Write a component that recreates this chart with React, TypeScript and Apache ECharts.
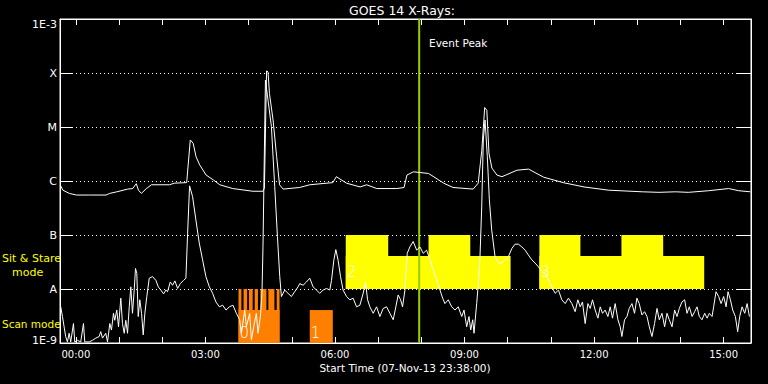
import React, { useEffect, useRef } from "react";
import * as echarts from "echarts";

// Time in minutes from 00:00 (08-Nov-13); plot starts 23:38 the day before.
const X_MIN = -22;
const X_MAX = 938;
const hourTicks = [0, 60, 120, 180, 240, 300, 360, 420, 480, 540, 600, 660, 720, 780, 840, 900];
const hourLabels = [0, 180, 360, 540, 720, 900];

// y values are log10(flux, W/m^2)
const yClassLabels: Record<string, string> = {
  "-9": "1E-9",
  "-8": "A",
  "-7": "B",
  "-6": "C",
  "-5": "M",
  "-4": "X",
  "-3": "1E-3",
};

const eventPeakTime = 477;

// GOES long channel (1-8 A)
const longChannel: [number, number][] = [
  [-21, -6.09], [-18, -6.17], [-9, -6.23], [1, -6.26], [19, -6.26], [42, -6.26], [47, -6.23], [57, -6.2],
  [72, -6.15], [79, -6.14], [84, -6.05], [87, -6.17], [91, -6.23], [98, -6.14], [105, -6.07], [130, -6.07],
  [137, -6.04], [154, -6.03], [159, -5.24], [163, -5.3], [167, -5.55], [172, -5.7], [181, -5.89], [191, -5.98],
  [200, -6.07], [218, -6.14], [246, -6.19], [260, -6.19], [262, -6.13], [265, -3.96], [267, -3.98], [269, -4.38],
  [274, -4.87], [279, -5.55], [283, -6.07], [288, -6.15], [311, -6.12], [325, -6.07], [357, -6.03], [362, -5.92],
  [376, -6.04], [395, -6.11], [404, -6.07], [418, -6.14], [446, -6.14], [456, -6.12], [460, -5.89], [469, -5.83],
  [490, -5.86], [511, -6.04], [524, -6.12], [552, -6.15], [559, -6.04], [564, -5.43], [568, -4.64], [571, -4.69],
  [574, -5.49], [578, -5.76], [585, -5.89], [592, -5.92], [613, -5.8], [629, -5.78], [650, -5.93], [677, -6.03],
  [706, -6.11], [740, -6.17], [787, -6.2], [810, -6.21], [833, -6.2], [851, -6.21], [879, -6.18], [907, -6.14],
  [921, -6.18], [937, -6.2],
];

// GOES short channel (0.5-4 A)
const shortChannel: [number, number][] = [
  [-21, -8.33], [-18.6, -8.51], [-16.3, -8.7], [-14.1, -8.88], [-11.7, -8.98], [-9.3, -8.82], [-7.1, -8.98],
  [-3.3, -8.64], [-1.5, -8.98], [2.2, -8.95], [6.8, -8.98], [10.6, -8.64], [12.4, -8.98], [18.5, -8.98],
  [23.1, -8.95], [27.7, -8.91], [32.4, -8.88], [34.6, -8.79], [37, -8.91], [41.6, -8.82], [44, -8.98],
  [47.2, -8.64], [49.5, -8.76], [52.3, -8.45], [54.1, -8.58], [56.9, -8.39], [59.3, -8.7], [62.5, -8.17],
  [64.8, -8.64], [67.2, -8.82], [69.4, -8.58], [71.8, -8.82], [74.2, -8.33], [76.4, -7.96], [78.7, -8.45],
  [81.1, -8.02], [82.9, -7.62], [84.7, -7.71], [86.7, -8.51], [88.9, -8.2], [91.3, -8.45], [93.6, -8.85],
  [95.9, -8.45], [98.6, -8.14], [102, -7.8], [106.6, -7.77], [111.2, -7.84], [114.5, -7.96], [118.1, -8.02],
  [121.9, -8.09], [125.1, -8.02], [127.4, -8.05], [131.2, -7.87], [134.4, -7.93], [137.6, -7.85], [141.4, -7.99],
  [145.1, -7.9], [149.7, -7.84], [152.9, -7.8], [155.3, -6.97], [158, -6.09], [162.2, -6.29], [166.8, -6.72],
  [171.5, -7.15], [176.1, -7.46], [180.7, -7.77], [185.5, -7.96], [190, -8.08], [194.6, -8.24], [199.4, -8.33],
  [204, -8.3], [208.6, -8.39], [213.3, -8.33], [218.3, -8.3], [223, -8.45], [227.6, -8.57], [230, -8.82],
  [234.6, -8.39], [236.9, -8.7], [241.5, -8.45], [243.9, -8.94], [247.1, -8.7], [250.8, -8.45], [253.1, -8.82],
  [256.4, -8.51], [258.6, -8.08], [260, -7.22], [263.4, -4.13], [271.7, -4.99], [276.3, -6.1], [280.1, -7.03],
  [283.3, -7.77], [285.6, -8.14], [290.2, -8.02], [294.8, -8.08], [299.5, -8.14], [304.1, -8.05], [308.7, -7.96],
  [311.1, -7.9], [315.7, -7.93], [320.4, -7.87], [325, -7.8], [329.6, -7.96], [334.3, -8.02], [338.9, -8.08],
  [343.5, -8.02], [348.2, -7.99], [352.8, -8.02], [355.2, -7.84], [358.4, -7.47], [361.2, -7.27], [364.4, -7.47],
  [367.7, -7.77], [371.3, -8.02], [376.1, -8.14], [380.7, -8.2], [385.2, -8.17], [390, -8.33], [394.6, -8.3],
  [399.2, -8.08], [402.5, -7.87], [405.3, -8.2], [408.5, -8.33], [413.1, -8.45], [417.8, -8.33], [422.4, -8.51],
  [427, -8.36], [431.7, -8.33], [436.3, -8.45], [440.9, -8.57], [444.6, -8.33], [447.8, -8.11], [451.2, -8.2],
  [453.9, -8.33], [457.2, -8.02], [460.4, -7.34], [464.1, -7.22], [468.7, -7.12], [473.5, -7.28], [478.1, -7.22],
  [482.6, -7.34], [487.3, -7.28], [492, -7.46], [496.6, -7.65], [501.3, -7.83], [505.9, -8.02], [509.6, -8.17],
  [512.8, -8.27], [517.4, -8.2], [522.2, -8.33], [526.7, -8.39], [531.3, -8.33], [536.1, -8.51], [539.3, -8.39],
  [543, -8.7], [546.2, -8.51], [548.6, -8.76], [551.4, -8.57], [553.2, -8.82], [556.9, -8.27], [559.2, -7.9],
  [561.5, -7.4], [563.9, -6.48], [566.1, -5.24], [568.5, -4.87], [571.7, -5.55], [574.5, -6.35], [577.8, -6.91],
  [582.4, -7.4], [587, -7.52], [591.7, -7.52], [596.3, -7.46], [601, -7.4], [605.7, -7.25], [610.2, -7.17],
  [614.8, -7.17], [619.6, -7.22], [624.1, -7.28], [628.7, -7.37], [633.5, -7.46], [638.1, -7.52], [642.7, -7.59],
  [647.4, -7.68], [652, -7.71], [656.6, -7.83], [661.3, -7.96], [665.9, -8.08], [670.5, -8.02], [675.2, -8.2],
  [679.8, -8.27], [684.4, -8.17], [689.1, -8.27], [693.7, -8.42], [697.4, -8.2], [700.7, -8.33], [703.9, -8.24],
  [707.6, -8.64], [711.4, -8.27], [714.6, -8.36], [717.8, -8.2], [721.5, -8.39], [725.3, -8.54], [728.5, -8.33],
  [731.7, -8.45], [735.4, -8.39], [739.2, -8.51], [742.4, -8.33], [745.6, -8.54], [749.3, -8.27], [753.1, -8.57],
  [756.3, -8.7], [758.6, -8.88], [762.3, -8.57], [765.6, -8.51], [768.8, -8.36], [772.6, -8.27], [776.2, -8.45],
  [779.5, -8.17], [782.7, -8.27], [786.5, -8.48], [790.1, -8.42], [793.5, -8.51], [796.7, -8.7], [800.4, -8.88],
  [804, -8.64], [807.4, -8.36], [810.6, -8.57], [814.3, -8.45], [818, -8.7], [821.3, -8.45], [824.5, -8.57],
  [828.3, -8.7], [831.9, -8.39], [835.2, -8.51], [838.4, -8.36], [842.1, -8.24], [845.8, -8.2], [849.1, -8.45],
  [852.3, -8.33], [856.1, -8.51], [859.7, -8.42], [863, -8.33], [866.2, -8.51], [869.9, -8.57], [873.7, -8.45],
  [877, -8.54], [880.1, -8.45], [883.9, -8.51], [886.1, -8.33], [889.4, -8.05], [893.1, -8.14], [896.4, -8.27],
  [900, -8.14], [903.4, -8.33], [906.1, -8.05], [909.4, -8.2], [912.6, -8.39], [916.3, -8.51], [919.5, -8.79],
  [922.3, -8.51], [925.6, -8.33], [929.3, -8.45], [932.6, -8.27], [935.8, -8.51],
];

// Scan mode blocks: [start, end, bottom, top]
const scanBlocks: [number, number, number, number][] = [
  [226, 283, -9, -8.39],
  [226, 230, -9, -8],
  [233, 238, -9, -8],
  [240.5, 245.7, -9, -8],
  [248.5, 253, -9, -8],
  [256.4, 264.8, -9, -8],
  [267.5, 275.9, -9, -8],
  [279.1, 283, -9, -8],
  [325, 357, -9, -8.39],
];

// Sit & Stare blocks: [start, end, bottom, top]
const stareBlocks: [number, number, number, number][] = [
  [375, 604, -8, -7.39],
  [644, 873, -8, -7.39],
  [375, 434, -8, -7],
  [490, 548, -8, -7],
  [644, 701, -8, -7],
  [758, 816, -8, -7],
];

// Observation numbers: [time, level, text]
const blockLabels: [number, number, string][] = [
  [226, -8.81, "0"],
  [325, -8.81, "1"],
  [375, -7.68, "2"],
  [644, -7.68, "3"],
];

const FONT = "DejaVu Sans";

function blockSeries(data: [number, number, number, number][], color: string) {
  return {
    type: "custom",
    xAxisIndex: 0,
    yAxisIndex: 0,
    z: 1,
    silent: true,
    clip: true,
    data,
    encode: { x: [0, 1], y: [2, 3] },
    renderItem: (_params: any, api: any) => {
      const p0 = api.coord([api.value(0), api.value(3)]);
      const p1 = api.coord([api.value(1), api.value(2)]);
      return {
        type: "rect",
        shape: { x: p0[0], y: p0[1], width: p1[0] - p0[0], height: p1[1] - p0[1] },
        style: { fill: color },
      };
    },
  };
}

function fmtHour(v: number) {
  const h = Math.round(v / 60);
  return (h < 10 ? "0" : "") + h + ":00";
}

export default function App() {
  const ref = useRef<HTMLDivElement>(null);
  useEffect(() => {
    if (!ref.current) return;
    const chart = echarts.init(ref.current, undefined, { renderer: "svg" });
    const xCommon = {
      type: "value",
      min: X_MIN,
      max: X_MAX,
      axisLine: { show: true, onZero: false, lineStyle: { color: "#fff", width: 1 } },
      axisTick: { show: true, inside: true, length: 6, customValues: hourTicks, lineStyle: { color: "#fff" } },
      splitLine: { show: false },
    };
    const option: any = {
      backgroundColor: "#000",
      animation: false,
      textStyle: { fontFamily: FONT },
      grid: { left: 60, right: 17, top: 19, bottom: 41, show: true, borderColor: "#fff", borderWidth: 1 },
      xAxis: [
        {
          ...xCommon,
          position: "bottom",
          axisLabel: {
            customValues: hourLabels,
            formatter: fmtHour,
            color: "#ffffff",
            fontSize: 10,
            fontFamily: FONT,
            margin: 6,
          },
        },
        { ...xCommon, position: "top", axisLabel: { show: false } },
      ],
      yAxis: [
        {
          type: "value",
          min: -9,
          max: -3,
          interval: 1,
          position: "left",
          axisLine: { show: true, onZero: false, lineStyle: { color: "#fff" } },
          axisTick: { show: true, inside: true, length: 13, lineStyle: { color: "#fff" } },
          axisLabel: {
            color: "#ffffff",
            fontSize: 11,
            fontFamily: FONT,
            margin: 3,
            formatter: (v: number) => {
              const k = Math.round(v);
              const s = yClassLabels[String(k)] ?? "";
              if (k === -3) return "{t|" + s + "}";
              if (k === -9) return "{b|" + s + "}";
              return "{n|" + s + "}";
            },
            rich: {
              t: { padding: [10, 0, 0, 0], color: "#ffffff", fontSize: 11, fontFamily: FONT },
              b: { padding: [0, 0, 6, 0], color: "#ffffff", fontSize: 11, fontFamily: FONT },
              n: { color: "#ffffff", fontSize: 11, fontFamily: FONT },
            },
          },
          splitLine: { show: true, lineStyle: { color: "#fff", type: [1, 3], width: 1 } },
        },
        {
          type: "value",
          min: -9,
          max: -3,
          interval: 1,
          position: "right",
          axisLine: { show: true, onZero: false, lineStyle: { color: "#fff" } },
          axisTick: { show: true, inside: true, length: 14, lineStyle: { color: "#fff" } },
          axisLabel: { show: false },
          splitLine: { show: false },
        },
      ],
      series: [
        blockSeries(stareBlocks, "#ffff00"),
        blockSeries(scanBlocks, "#ff8000"),
        {
          type: "custom",
          xAxisIndex: 0,
          yAxisIndex: 0,
          z: 2,
          silent: true,
          data: blockLabels.map((b) => [b[0], b[1]]),
          encode: { x: 0, y: 1 },
          renderItem: (params: any, api: any) => {
            const p = api.coord([api.value(0), api.value(1)]);
            return {
              type: "text",
              x: p[0] + 1,
              y: p[1],
              style: {
                text: blockLabels[params.dataIndex][2],
                fill: "#fff",
                fontSize: 15,
                fontFamily: FONT,
                fontWeight: 300,
                align: "left",
                verticalAlign: "middle",
              },
            };
          },
        },
        {
          type: "line",
          z: 3,
          silent: true,
          showSymbol: false,
          data: [
            [eventPeakTime, -9],
            [eventPeakTime, -3],
          ],
          lineStyle: { color: "#99cc00", width: 2 },
        },
        {
          type: "line",
          z: 4,
          silent: true,
          showSymbol: false,
          data: longChannel,
          lineStyle: { color: "#fff", width: 1 },
        },
        {
          type: "line",
          z: 4,
          silent: true,
          showSymbol: false,
          data: shortChannel,
          lineStyle: { color: "#fff", width: 1 },
        },
      ],
      graphic: [
        {
          type: "text",
          x: 402,
          y: 10,
          style: { text: "GOES 14 X-Rays:", fill: "#fff", fontSize: 12.5, fontFamily: FONT, align: "center", verticalAlign: "middle" },
        },
        {
          type: "text",
          x: 405,
          y: 368,
          style: {
            text: "Start Time (07-Nov-13 23:38:00)",
            fill: "#fff",
            fontSize: 10.5,
            fontFamily: FONT,
            align: "center",
            verticalAlign: "middle",
          },
        },
        {
          type: "text",
          x: 429,
          y: 43,
          style: { text: "Event Peak", fill: "#fff", fontSize: 10.5, fontFamily: FONT, align: "left", verticalAlign: "middle" },
        },
        {
          type: "text",
          x: 2,
          y: 258.5,
          style: { text: "Sit & Stare", fill: "#ffff00", fontSize: 11, fontFamily: FONT, align: "left", verticalAlign: "middle" },
        },
        {
          type: "text",
          x: 12,
          y: 272,
          style: { text: "mode", fill: "#ffff00", fontSize: 11, fontFamily: FONT, align: "left", verticalAlign: "middle" },
        },
        {
          type: "text",
          x: 2,
          y: 324,
          style: { text: "Scan mode", fill: "#ffff00", fontSize: 10.5, fontFamily: FONT, align: "left", verticalAlign: "middle" },
        },
      ],
    };
    chart.setOption(option);
    return () => chart.dispose();
  }, []);
  return (
    <div
      ref={ref}
      style={{ position: "fixed", left: 0, top: 0, width: 768, height: 384, background: "#000" }}
    />
  );
}
